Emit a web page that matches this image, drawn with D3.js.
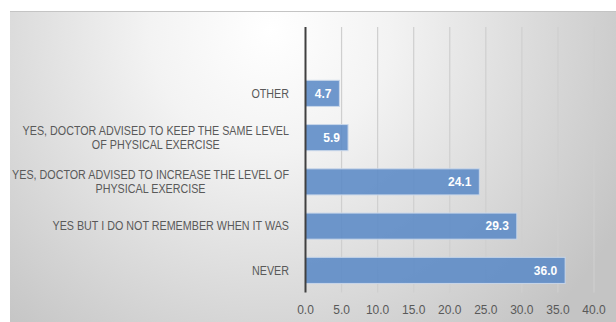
<!DOCTYPE html>
<html>
<head>
<meta charset="utf-8">
<script src="https://cdn.jsdelivr.net/npm/d3@7"></script>
<style>
  html, body { margin: 0; padding: 0; background: #ffffff; }
  svg { display: block; }
  text { font-family: "Liberation Sans", Arial, sans-serif; }
</style>
</head>
<body>
<svg id="chart" width="616" height="322"></svg>
<script>
// Answer categories, top to bottom (first entry is an empty slot above the bars)
const categories = [
  "",
  "OTHER",
  "YES, DOCTOR ADVISED TO KEEP THE SAME LEVEL|OF PHYSICAL EXERCISE",
  "YES, DOCTOR ADVISED TO INCREASE THE LEVEL OF|PHYSICAL EXERCISE",
  "YES BUT I DO NOT REMEMBER WHEN IT WAS",
  "NEVER"
];
const values = [null, 4.7, 5.9, 24.1, 29.3, 36.0];
const tickValues = [0, 5, 10, 15, 20, 25, 30, 35, 40];

const svg = d3.select("#chart");
const W = 616, H = 322;

// Chart-area background with soft radial shading
const defs = svg.append("defs");
const grad = defs.append("radialGradient")
  .attr("id", "bg")
  .attr("gradientUnits", "userSpaceOnUse")
  .attr("cx", 270).attr("cy", 30).attr("r", 400)
  .attr("fx", 270).attr("fy", 30);
grad.append("stop").attr("offset", "0%").attr("stop-color", "#ffffff");
grad.append("stop").attr("offset", "30%").attr("stop-color", "#f3f3f3");
grad.append("stop").attr("offset", "100%").attr("stop-color", "#c4c4c4");

svg.append("rect")
  .attr("x", 10).attr("y", 11).attr("width", W - 10).attr("height", H - 11)
  .attr("fill", "url(#bg)");
svg.append("line")
  .attr("x1", 10).attr("x2", W).attr("y1", 11.5).attr("y2", 11.5)
  .attr("stroke", "#c4c4c4").attr("stroke-width", 1);

const plot = { left: 305.5, right: 594, top: 27, bottom: 292.5 };

const x = d3.scaleLinear().domain([0, 40]).range([plot.left, plot.right]);
const y = d3.scaleBand().domain(categories.map((c, i) => i))
  .range([plot.top, plot.bottom]).paddingInner(0.41).paddingOuter(0.205);

// Vertical gridlines
svg.append("g").selectAll("line")
  .data(tickValues.filter(t => t > 0))
  .join("line")
  .attr("x1", d => x(d)).attr("x2", d => x(d))
  .attr("y1", plot.top).attr("y2", plot.bottom)
  .attr("stroke", "#cfcfcf").attr("stroke-width", 1.2);

// Bars
const rows = categories.map((c, i) => ({ i, label: c, value: values[i] }))
  .filter(d => d.value != null);

svg.append("g").selectAll("rect")
  .data(rows)
  .join("rect")
  .attr("x", x(0))
  .attr("y", d => y(d.i))
  .attr("width", d => x(d.value) - x(0))
  .attr("height", y.bandwidth())
  .attr("fill", "#5b8ac6")
  .attr("fill-opacity", 0.88)
  .attr("stroke", "#c9d7ea")
  .attr("stroke-width", 1);

// Value labels inside bar ends
svg.append("g").selectAll("text")
  .data(rows)
  .join("text")
  .attr("x", d => x(d.value) - 8)
  .attr("y", d => y(d.i) + y.bandwidth() / 2)
  .attr("dy", "0.35em")
  .attr("text-anchor", "end")
  .attr("fill", "#ffffff")
  .attr("font-weight", "bold")
  .attr("font-size", 12)
  .text(d => d.value.toFixed(1));

// Category axis line
svg.append("line")
  .attr("x1", x(0)).attr("x2", x(0))
  .attr("y1", plot.top).attr("y2", plot.bottom)
  .attr("stroke", "#404040").attr("stroke-width", 2);

// Category labels (wrapped, centred lines, right-aligned block, narrow set)
const labelRight = 289;
const lineH = 14;
const squeeze = 0.895;
const lab = svg.append("g").selectAll("g")
  .data(rows)
  .join("g");
lab.each(function(d) {
  const g = d3.select(this);
  const lines = d.label.split("|");
  const cy = y(d.i) + y.bandwidth() / 2;
  const texts = lines.map((ln, k) => g.append("text")
    .attr("y", cy + (k - (lines.length - 1) / 2) * lineH)
    .attr("dy", "0.35em")
    .attr("fill", "#595959")
    .attr("font-size", 12)
    .text(ln));
  const widths = texts.map(t => t.node().getComputedTextLength() * squeeze);
  const maxW = d3.max(widths);
  const center = labelRight - maxW / 2;
  texts.forEach((t, k) => t.attr("x", center).attr("text-anchor", "middle")
    .attr("textLength", widths[k]).attr("lengthAdjust", "spacingAndGlyphs"));
});

// Value axis tick labels
svg.append("g").selectAll("text")
  .data(tickValues)
  .join("text")
  .attr("x", d => x(d))
  .attr("y", 310)
  .attr("dy", "0.35em")
  .attr("text-anchor", "middle")
  .attr("fill", "#595959")
  .attr("font-size", 12)
  .text(d => d.toFixed(1));
</script>
</body>
</html>
